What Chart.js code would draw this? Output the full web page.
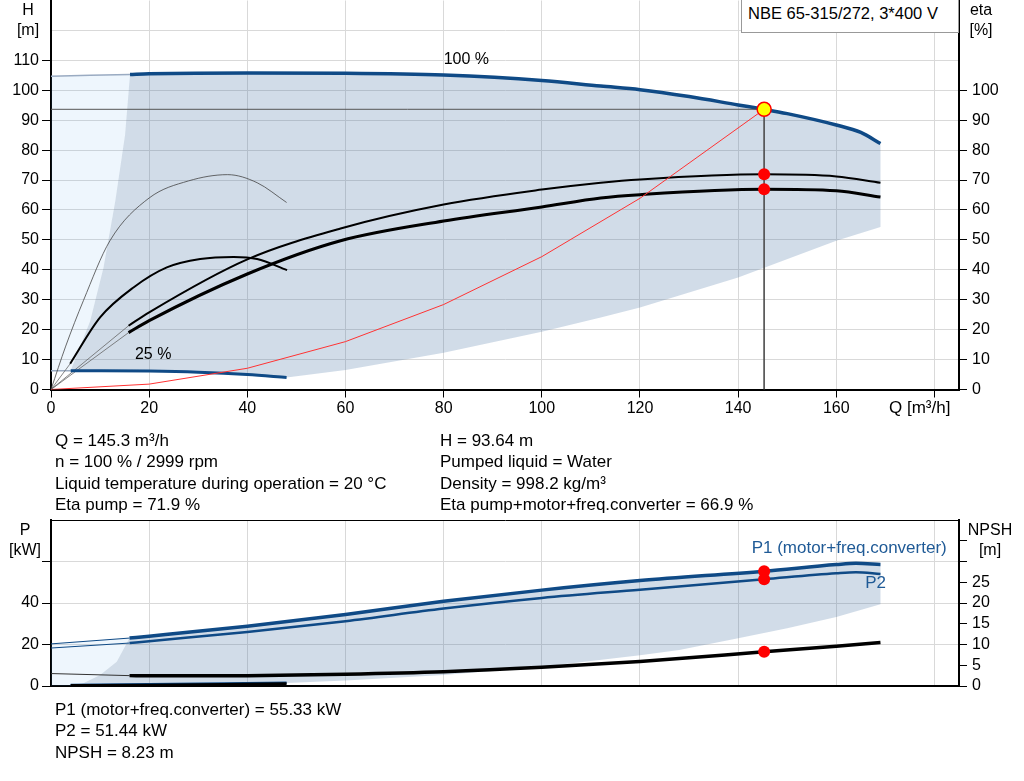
<!DOCTYPE html>
<html>
<head>
<meta charset="utf-8">
<title>NBE 65-315/272 pump curve</title>
<script src="https://cdn.jsdelivr.net/npm/chart.js@4.4.1/dist/chart.umd.min.js"></script>
<style>
  body { margin: 0; background: #fff; font-family: "Liberation Sans", Arial, sans-serif; font-size: 16px; color: #000; }
  #page { position: relative; width: 1024px; height: 781px; overflow: hidden; }
  canvas { position: absolute; left: 0; }
  #topChart { top: 0; }
  #bottomChart { top: 515px; }
  .lbl { position: absolute; white-space: nowrap; line-height: 20px; transform: translateX(-50%); }
  .info { position: absolute; white-space: nowrap; line-height: 21.3px; font-size: 17px; }
  #model { position: absolute; left: 741px; top: 0; width: 218px; height: 33px; border: 1px solid #999; border-top: none;
           background: #fff; box-sizing: border-box; padding-left: 6px; line-height: 27px; font-size: 16.5px; }
</style>
</head>
<body>
<div id="page">
  <canvas id="topChart" width="1024" height="430"></canvas>
  <canvas id="bottomChart" width="1024" height="185"></canvas>

  <div id="model">NBE 65-315/272, 3*400 V</div>

  <div class="lbl" style="left:28px; top:0">H</div>
  <div class="lbl" style="left:28px; top:20px">[m]</div>
  <div class="lbl" style="left:981px; top:0">eta</div>
  <div class="lbl" style="left:981px; top:20px">[%]</div>
  <div class="info" style="left:889px; top:397px">Q [m³/h]</div>

  <div class="lbl" style="left:25px; top:520px">P</div>
  <div class="lbl" style="left:25px; top:540px">[kW]</div>
  <div class="lbl" style="left:990px; top:520px">NPSH</div>
  <div class="lbl" style="left:990px; top:540px">[m]</div>

  <div class="info" style="left:55px; top:430px">
    Q = 145.3 m³/h<br>
    n = 100 % / 2999 rpm<br>
    Liquid temperature during operation = 20 °C<br>
    Eta pump = 71.9 %
  </div>
  <div class="info" style="left:440px; top:430px">
    H = 93.64 m<br>
    Pumped liquid = Water<br>
    Density = 998.2 kg/m³<br>
    Eta pump+motor+freq.converter = 66.9 %
  </div>
  <div class="info" style="left:55px; top:699px">
    P1 (motor+freq.converter) = 55.33 kW<br>
    P2 = 51.44 kW<br>
    NPSH = 8.23 m
  </div>
</div>

<script>
// --- ticks ---
const qTicks = [0, 20, 40, 60, 80, 100, 120, 140, 160, 180];
const hTicks = [0, 10, 20, 30, 40, 50, 60, 70, 80, 90, 100, 110, 120];
const etaTicks = [0, 10, 20, 30, 40, 50, 60, 70, 80, 90, 100];
const pTicks = [0, 20, 40, 60];
const npshTicks = [0, 5, 10, 15, 20, 25, 30, 35];

// --- operating point ---
const opQ = 145.3;
const opH = 93.64;
const opEtaPump = 71.9;
const opEtaTotal = 66.9;
const opP1 = 55.33;
const opP2 = 51.44;
const opNpsh = 8.23;

// --- QH curves ---
const q100 = [16.1, 20, 40, 60, 80, 100, 112, 120, 130, 140, 145.3, 150, 160, 165, 169];
const h100 = [105.3, 105.5, 105.8, 105.7, 105.1, 103.3, 101.4, 100.2, 97.9, 95.1, 93.64, 92.2, 88.4, 85.9, 82.2];
const q100Ext = [0, 16.1];
const h100Ext = [104.7, 105.3];
const q25 = [4, 10, 20, 30, 40, 48];
const h25 = [6.3, 6.3, 6.2, 5.8, 5.0, 4.0];
const q25Ext = [0, 4];
const h25Ext = [6.3, 6.3];

// --- operating range boundaries (QH) ---
const qLow = [169, 160, 140, 120, 112, 100, 80, 60, 48];
const hLow = [54.3, 49.7, 37.4, 27.4, 24.1, 19.3, 12.3, 6.5, 4.0];
const qLeft = [4, 8.0, 10.7, 13.1, 15.1, 16.1];
const hLeft = [6.3, 23, 40.8, 63, 85.2, 105.3];

// --- efficiency curves ---
const qEta = [15.8, 20, 40, 59, 80, 100, 112, 120, 145.3, 160, 169];
const etaPump = [21.3, 25.8, 43.5, 53.8, 61.8, 66.8, 69.1, 70.2, 71.9, 71.2, 69.1];
const etaTotal = [19.0, 23.0, 38.6, 49.7, 56.3, 61.0, 64.0, 65.1, 66.9, 66.4, 64.3];
const qEtaExt = [0, 15.8];
const etaPumpExt = [0, 21.3];
const etaTotalExt = [0, 19.0];
const qEta25Pump = [0, 3, 6.6, 12, 20, 28, 36, 42, 48];
const eta25Pump = [0, 14.5, 29.7, 49.7, 64, 69.7, 71.8, 69.1, 62.5];
const qEta25Total = [3.9, 10, 16.8, 23.6, 30.4, 37.2, 42, 48.1];
const eta25Total = [8.6, 24.1, 34.1, 40.8, 43.6, 44.3, 43.6, 39.9];
const qEta25Ext = [0, 3.9];
const eta25Ext = [0, 8.6];

// --- system curve ---
const qSys = [0, 20, 40, 60, 80, 100, 120, 145.3];
const hSys = [0, 1.8, 7.1, 16.0, 28.4, 44.4, 63.9, 93.64];

// --- power and NPSH ---
const qP = [16, 20, 40, 60, 80, 100, 120, 145.3, 160, 164, 169];
const p1 = [23.1, 24.0, 28.8, 34.5, 40.8, 46.2, 50.8, 55.33, 58.5, 59.1, 58.6];
const p2 = [20.7, 21.6, 26.0, 31.2, 37.3, 42.4, 46.4, 51.44, 54.3, 54.8, 54.0];
const qPExt = [0, 16];
const p1Ext = [20.3, 23.1];
const p2Ext = [18.3, 20.7];
const qP25 = [4, 20, 35, 48];
const p25 = [0.5, 0.8, 1.2, 1.6];
const qPLow = [169, 160, 150, 140, 128, 120, 100, 80, 60, 48];
const pLow = [39.4, 33.2, 27.8, 23.0, 17.3, 14.8, 9.3, 5.3, 2.6, 1.4];
const qPLeft = [3.2, 6.6, 10, 13.4, 16];
const pLeft = [0, 1.3, 5.3, 11.7, 23.1];
const qNpsh = [16, 20, 40, 60, 80, 100, 120, 145.3, 160, 169];
const npsh = [2.5, 2.45, 2.5, 2.85, 3.45, 4.5, 5.9, 8.23, 9.6, 10.5];
const npshExt = [3.0, 2.5];
const npsh25 = [0.05, 0.15, 0.3, 0.5];

// --- colors ---
const blue = '#0f4a86';
const blueThin = '#9aabc2';
const grayFill = 'rgba(71, 115, 163, 0.25)';
const lightFill = 'rgba(85, 165, 235, 0.1)';
const gridColor = '#d9d9d9';
const font16 = { size: 16, family: "'Liberation Sans', Arial, sans-serif" };

const pts = (xs, ys) => xs.map((x, i) => ({ x: x, y: ys[i] }));
const rev = a => a.slice().reverse();

function curve(data, color, width, extra) {
    return Object.assign({
        data: data, borderColor: color, borderWidth: width, pointRadius: 0,
        fill: false, cubicInterpolationMode: 'monotone'
    }, extra || {});
}
function region(data, color) {
    return { data: data, borderWidth: 0, pointRadius: 0, backgroundColor: color, fill: 'shape', tension: 0 };
}
function dots(data, axis) {
    return {
        data: data, yAxisID: axis, showLine: false, pointRadius: 6,
        pointBackgroundColor: '#ff0000', pointBorderWidth: 0
    };
}

const fixWidth = w => s => { s.width = w; s.paddingTop = 0; s.paddingBottom = 0; };
const fixHeight = h => s => { s.height = h; s.paddingLeft = 0; s.paddingRight = 0; };
const setTicks = values => s => { s.ticks = values.map(v => ({ value: v })); };
const hideAbove = max => c => (c.tick && c.tick.value > max ? 'rgba(0,0,0,0)' : '#000');

// Mueve el canvas para que el área del gráfico caiga entre top y bottom (px de la página)
function place(chart, top, bottom, axisHeight) {
    const canvasTop = top - chart.chartArea.top;
    chart.canvas.style.top = canvasTop + 'px';
    chart.resize(1024, bottom + axisHeight - canvasTop);
}

const curveLabels = {
    id: 'curveLabels',
    afterDatasetsDraw(chart, args, opts) {
        const ctx = chart.ctx;
        ctx.save();
        ctx.textBaseline = 'middle';
        (opts.items || []).forEach(it => {
            ctx.font = (it.size || 16) + "px 'Liberation Sans', Arial, sans-serif";
            ctx.fillStyle = it.color || '#000';
            ctx.textAlign = it.align || 'left';
            ctx.fillText(it.text, chart.scales.x.getPixelForValue(it.x),
                chart.scales[it.axis].getPixelForValue(it.y));
        });
        ctx.restore();
    }
};

const xScale = (showLabels, height) => ({
    type: 'linear', min: 0, max: 185,
    afterBuildTicks: setTicks(qTicks),
    afterFit: fixHeight(height),
    ticks: {
        display: showLabels, color: '#000', font: font16, padding: 1, maxRotation: 0,
        callback: v => (v <= 160 ? String(v) : '')
    },
    grid: { color: gridColor, tickColor: '#000', tickLength: 8, drawTicks: showLabels },
    border: { color: '#000', width: 2 }
});

// --- Gráfico superior: H y eta ---
const greyRegion = pts(q100, h100)
    .concat(pts(qLow, hLow), rev(pts(q25, h25)), pts(qLeft, hLeft));
const lightRegion = pts(q25Ext, h25Ext).reverse()
    .concat(pts(q100Ext, h100Ext), rev(pts(qLeft, hLeft)));

const topChart = new Chart(document.getElementById('topChart'), {
    type: 'line',
    data: {
        datasets: [
            {
                data: [{ x: opQ, y: opH }], showLine: false, pointRadius: 7,
                pointBackgroundColor: '#ffff00', pointBorderColor: '#ff0000', pointBorderWidth: 1.5
            },
            dots([{ x: opQ, y: opEtaPump }, { x: opQ, y: opEtaTotal }], 'eta'),
            curve([{ x: 0, y: opH }, { x: opQ, y: opH }, { x: opQ, y: 0 }], '#555', 1, { cubicInterpolationMode: 'default', tension: 0 }),
            curve(pts(qSys, hSys), '#ff3333', 1, { cubicInterpolationMode: 'default', tension: 0 }),
            curve(pts(q100, h100), blue, 3.5),
            curve(pts(q25, h25), blue, 3),
            curve(pts(qEta, etaTotal), '#000', 3, { yAxisID: 'eta' }),
            curve(pts(qEta, etaPump), '#000', 2, { yAxisID: 'eta' }),
            curve(pts(qEta25Total, eta25Total), '#000', 2, { yAxisID: 'eta' }),
            curve(pts(qEta25Pump, eta25Pump), '#444', 0.8, { yAxisID: 'eta' }),
            curve(pts(qEtaExt, etaPumpExt), '#666', 0.8, { yAxisID: 'eta' }),
            curve(pts(qEtaExt, etaTotalExt), '#666', 0.8, { yAxisID: 'eta' }),
            curve(pts(qEta25Ext, eta25Ext), '#666', 0.8, { yAxisID: 'eta' }),
            curve(pts(q100Ext, h100Ext), blueThin, 1.5),
            curve(pts(q25Ext, h25Ext), blueThin, 1.5),
            region(greyRegion, grayFill),
            region(lightRegion, lightFill)
        ]
    },
    options: {
        responsive: false,
        maintainAspectRatio: false,
        animation: false,
        events: [],
        layout: { padding: 0 },
        plugins: {
            legend: { display: false },
            tooltip: { enabled: false },
            curveLabels: {
                items: [
                    { text: '100 %', x: 80, y: 110.3, axis: 'y' },
                    { text: '25 %', x: 17.1, y: 11.7, axis: 'y' }
                ]
            }
        },
        scales: {
            x: xScale(true, 41),
            y: {
                type: 'linear', position: 'left', min: 0, max: 130,
                afterBuildTicks: setTicks(hTicks),
                afterFit: fixWidth(51),
                ticks: { color: '#000', font: font16, padding: 3, callback: v => (v <= 110 ? String(v) : '') },
                grid: { color: gridColor, tickColor: hideAbove(110), tickLength: 9 },
                border: { color: '#000', width: 2 }
            },
            eta: {
                type: 'linear', position: 'right', min: 0, max: 130,
                afterBuildTicks: setTicks(etaTicks),
                afterFit: fixWidth(65),
                ticks: { color: '#000', font: font16, padding: 5 },
                grid: { drawOnChartArea: false, tickColor: '#000', tickLength: 8 },
                border: { color: '#000', width: 2 }
            }
        }
    },
    plugins: [curveLabels]
});
place(topChart, 0, 389, 41);

// --- Gráfico inferior: P y NPSH ---
const powerRegion = pts(qP, p1)
    .concat(pts(qPLow, pLow), rev(pts(qP25, p25)), pts(qPLeft, pLeft));
const powerLight = [{ x: 0, y: 0 }].concat(pts(qPExt, p1Ext), rev(pts(qPLeft, pLeft)));

const bottomChart = new Chart(document.getElementById('bottomChart'), {
    type: 'line',
    data: {
        datasets: [
            dots([{ x: opQ, y: opP1 }, { x: opQ, y: opP2 }], 'y'),
            dots([{ x: opQ, y: opNpsh }], 'npsh'),
            curve(pts(qP, p1), blue, 3.5),
            curve(pts(qP, p2), blue, 2.5),
            curve(pts(qNpsh, npsh), '#000', 3.5, { yAxisID: 'npsh' }),
            curve(pts(qP25, npsh25), '#000', 3.5, { yAxisID: 'npsh' }),
            curve(pts(qP25, p25), blue, 2.5),
            curve(pts(qPExt, p1Ext), blue, 1),
            curve(pts(qPExt, p2Ext), blue, 1),
            curve(pts(qPExt, npshExt), '#333', 1, { yAxisID: 'npsh' }),
            region(powerRegion, grayFill),
            region(powerLight, lightFill)
        ]
    },
    options: {
        responsive: false,
        maintainAspectRatio: false,
        animation: false,
        events: [],
        layout: { padding: { top: 5 } },
        plugins: {
            legend: { display: false },
            tooltip: { enabled: false },
            curveLabels: {
                items: [
                    { text: 'P1 (motor+freq.converter)', x: 182.5, y: 66.4, axis: 'y', align: 'right', color: '#1f5a96', size: 17 },
                    { text: 'P2', x: 165.9, y: 49.5, axis: 'y', color: '#1f5a96', size: 17 }
                ]
            }
        },
        scales: {
            x: xScale(false, 14),
            xTop: {
                type: 'linear', position: 'top', min: 0, max: 185,
                afterFit: fixHeight(0),
                ticks: { display: false },
                grid: { display: false, drawTicks: false },
                border: { color: '#000', width: 1 }
            },
            y: {
                type: 'linear', position: 'left', min: 0, max: 80,
                afterBuildTicks: setTicks(pTicks),
                afterFit: fixWidth(51),
                ticks: { color: '#000', font: font16, padding: 3, callback: v => (v <= 40 ? String(v) : '') },
                grid: { color: gridColor, tickColor: '#000', tickLength: 9 },
                border: { color: '#000', width: 2 }
            },
            npsh: {
                type: 'linear', position: 'right', min: 0, max: 40,
                afterBuildTicks: setTicks(npshTicks),
                afterFit: fixWidth(65),
                ticks: { color: '#000', font: font16, padding: 5, callback: v => (v <= 25 ? String(v) : '') },
                grid: { drawOnChartArea: false, tickColor: '#000', tickLength: 8 },
                border: { color: '#000', width: 2 }
            }
        }
    },
    plugins: [curveLabels]
});
place(bottomChart, 520, 686, 14);
</script>
</body>
</html>
